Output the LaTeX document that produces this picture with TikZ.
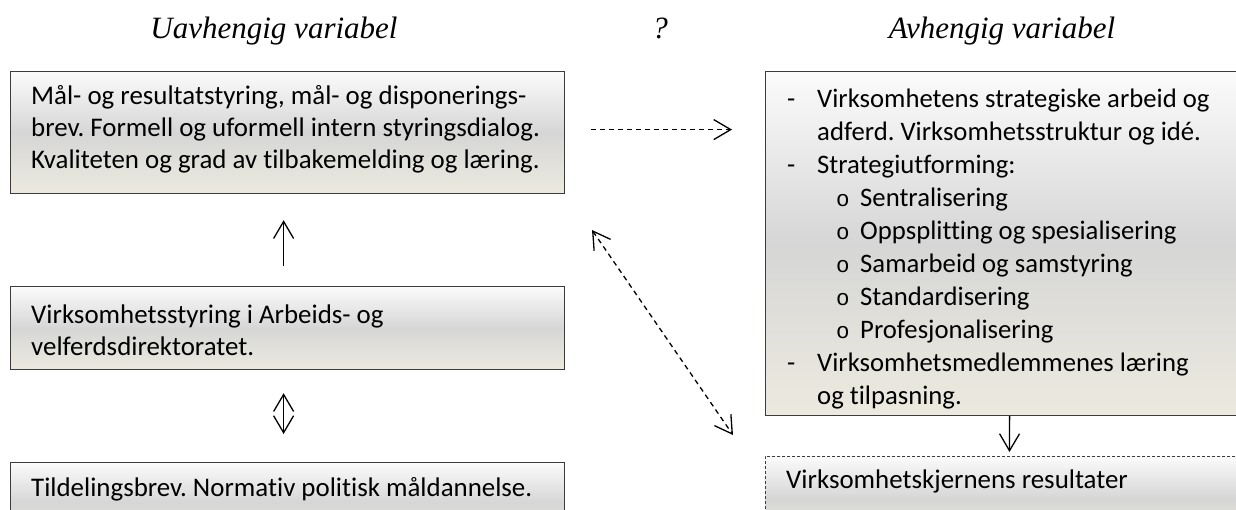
\documentclass[tikz,border=0pt]{standalone}
\usepackage{fontspec}
\setmainfont{Carlito}[Ligatures=NoCommon]
\newfontfamily\titlefont{Liberation Serif}
\newfontfamily\bulletfont{Liberation Mono}
\usetikzlibrary{arrows.meta,calc}
\definecolor{gtop}{RGB}{251,251,251}
\definecolor{gmid}{RGB}{214,214,214}
\definecolor{gbot}{RGB}{236,234,223}
\definecolor{edgec}{RGB}{60,60,60}
\tikzset{
  box/.style={draw=edgec, line width=1.2pt, rectangle, anchor=north west, inner sep=0pt,
    top color=gtop, bottom color=gbot, middle color=gmid},
  dbox/.style={box, line width=0.9pt, dash pattern=on 3pt off 2pt},
  txt/.style={font=\fontsize{26.9}{32}\selectfont, align=left, anchor=west, inner sep=0pt},
  rtxt/.style={txt, anchor=north west, font=\fontsize{26.7}{33}\selectfont},
  ttl/.style={font=\titlefont\itshape\fontsize{31}{36}\selectfont, inner sep=0pt, text height=21pt, text depth=7pt},
  arr/.style={line width=1.3pt, -{Straight Barb[length=17pt,width=20pt,line width=1.3pt]}},
  darr/.style={arr, dash pattern=on 5pt off 4pt},
  dblarr/.style={line width=1.3pt, {Straight Barb[length=17pt,width=20pt,line width=1.3pt]}-{Straight Barb[length=17pt,width=20pt,line width=1.3pt]}},
}
\newcommand{\dashitem}{\makebox[31pt][l]{\hspace*{1pt}-}}
\newcommand{\oitem}{\hspace*{50pt}\makebox[24pt][l]{\bulletfont\fontsize{22.5}{22}\selectfont o}}
\frenchspacing
\begin{document}
\begin{tikzpicture}[x=1pt,y=-1pt]
\useasboundingbox (0,0) rectangle (1236,510);
\clip (0,0) rectangle (1236,510);

% titles
\node[ttl] (h1) at (274,32) {Uavhengig variabel};
\node[ttl] (h2) at (660,32) {?};
\node[ttl] (h3) at (1002,32) {Avhengig variabel};

% left boxes
\node[box, minimum width=554pt, minimum height=122pt] (b1) at (10,71) {};
\node[txt] (t1) at (31,129) {Mål- og resultatstyring, mål- og disponerings-\\brev. Formell og uformell intern styringsdialog.\\Kvaliteten og grad av tilbakemelding og læring.};

\node[box, minimum width=554pt, minimum height=83pt] (b2) at (10,286) {};
\node[txt] (t2) at (31,330) {Virksomhetsstyring i Arbeids- og\\velferdsdirektoratet.};

\node[box, minimum width=554pt, minimum height=80pt] (b3) at (10,462) {};
\node[txt] (t3) at (31,489) {Tildelingsbrev. Normativ politisk måldannelse.};

% right boxes
\node[box, minimum width=488pt, minimum height=344pt] (rb) at (765,71) {};
\node[rtxt] (rt) at (786,89) {%
\dashitem Virksomhetens strategiske arbeid og\\
\hspace*{31pt}adferd. Virksomhetsstruktur og idé.\\
\dashitem Strategiutforming:\\
\oitem Sentralisering\\
\oitem Oppsplitting og spesialisering\\
\oitem Samarbeid og samstyring\\
\oitem Standardisering\\
\oitem Profesjonalisering\\
\dashitem Virksomhetsmedlemmenes læring\\
\hspace*{31pt}og tilpasning.};

\node[dbox, minimum width=488pt, minimum height=84pt] (db) at (765,456) {};
\node[txt] (dt) at (786,481) {Virksomhetskjernens resultater};

% connectors
\draw[arr, shorten <=20pt, shorten >=26pt] ([xshift=-4pt]b2.north) -- ([xshift=-4pt]b1.south);
\draw[dblarr, shorten <=23pt, shorten >=28pt] ([xshift=-4pt]b2.south) -- ([xshift=-4pt]b3.north);
\draw[darr, shorten <=26pt, shorten >=33pt] ([yshift=3pt]b1.east) -- ([yshift=3pt]b1.east -| rb.west);
\coordinate (d1) at (592,230);
\coordinate (d2) at (733,435);
\draw[dblarr, dash pattern=on 5pt off 4pt] (d1) -- (d2);
\draw[arr, shorten >=4pt] (rb.south) -- (db.north);
\end{tikzpicture}
\end{document}
